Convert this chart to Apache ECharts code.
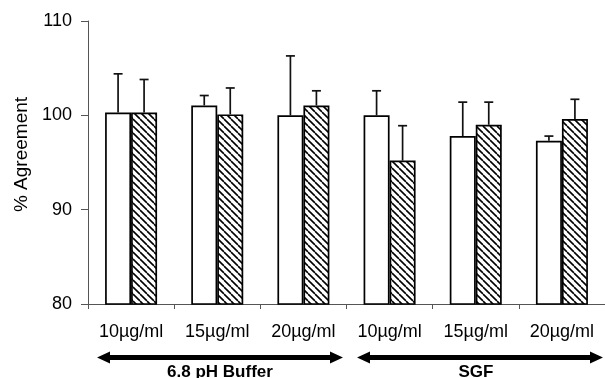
<!DOCTYPE html>
<html>
<head>
<meta charset="utf-8">
<script src="https://cdn.jsdelivr.net/npm/echarts@6/dist/echarts.min.js"></script>
<style>
  html, body { margin: 0; padding: 0; background: #fff; }
  #chart { width: 605px; height: 378px; }
</style>
</head>
<body>
<div id="chart"></div>
<script>
  // categories and values
  const categories = ['10µg/ml', '15µg/ml', '20µg/ml', '10µg/ml', '15µg/ml', '20µg/ml'];
  const plainValues = [100.3, 101.05, 100.0, 100.0, 97.8, 97.3];
  const plainErrors = [4.1, 1.05, 6.3, 2.6, 3.6, 0.5];
  const hatchValues = [100.3, 100.1, 101.05, 95.2, 99.0, 99.6];
  const hatchErrors = [3.5, 2.8, 1.55, 3.7, 2.4, 2.1];
  const yTicks = [80, 90, 100, 110];
  const groupNames = ['6.8 pH Buffer', 'SGF'];

  const font = "'Liberation Sans', Arial, Helvetica, sans-serif";

  // diagonal hatch tile
  function hatchTile () {
    const s = 7;
    const c = document.createElement('canvas');
    c.width = s; c.height = s;
    const ctx = c.getContext('2d');
    ctx.fillStyle = '#fff';
    ctx.fillRect(0, 0, s, s);
    ctx.strokeStyle = '#000';
    ctx.lineWidth = 1.6;
    for (let k = -1; k <= 1; k++) {
      ctx.beginPath();
      ctx.moveTo(k * s, 0);
      ctx.lineTo(k * s + s, s);
      ctx.stroke();
    }
    return c;
  }

  const barW = 26;

  function errorSeries (values, errors, offset) {
    return {
      type: 'custom',
      z: 5,
      encode: { x: 0, y: 1 },
      data: values.map((v, i) => [i, v, errors[i]]),
      renderItem (params, api) {
        const base = api.coord([api.value(0), api.value(1)]);
        const top = api.coord([api.value(0), api.value(1) + api.value(2)]);
        const x = base[0] + offset;
        const style = { stroke: '#111', lineWidth: 1.7 };
        return {
          type: 'group',
          children: [
            { type: 'line', shape: { x1: x, y1: base[1], x2: x, y2: top[1] }, style },
            { type: 'line', shape: { x1: x - 4.5, y1: top[1], x2: x + 4.5, y2: top[1] }, style }
          ]
        };
      }
    };
  }

  function arrow (x1, x2, y) {
    const hl = 13, hh = 6, t = 2.5;
    return {
      type: 'polygon',
      shape: {
        points: [
          [x1, y], [x1 + hl, y - hh], [x1 + hl, y - t], [x2 - hl, y - t], [x2 - hl, y - hh],
          [x2, y], [x2 - hl, y + hh], [x2 - hl, y + t], [x1 + hl, y + t], [x1 + hl, y + hh]
        ]
      },
      style: { fill: '#000' }
    };
  }

  const chart = echarts.init(document.getElementById('chart'));
  chart.setOption({
    animation: false,
    backgroundColor: '#fff',
    grid: { left: 88, right: -10, top: 21, bottom: 74 },
    xAxis: {
      type: 'category',
      data: categories,
      axisLine: { lineStyle: { color: '#555', width: 1 } },
      axisTick: { show: true, length: 5, lineStyle: { color: '#555' } },
      axisLabel: { color: '#000', fontSize: 18, fontFamily: font, margin: 19, interval: 0 }
    },
    yAxis: {
      type: 'value',
      min: yTicks[0],
      max: yTicks[yTicks.length - 1],
      interval: 10,
      name: '% Agreement',
      nameLocation: 'middle',
      nameGap: 56,
      nameTextStyle: { color: '#000', fontSize: 19, fontFamily: font, padding: [0, 0, 0, 16] },
      axisLine: { show: true, lineStyle: { color: '#555', width: 1 } },
      axisTick: { show: true, length: 7, lineStyle: { color: '#555' } },
      splitLine: { show: false },
      axisLabel: { color: '#000', fontSize: 18, fontFamily: font, margin: 16 }
    },
    series: [
      {
        type: 'bar',
        data: plainValues,
        barWidth: barW,
        barGap: '0%',
        itemStyle: { color: '#fff', borderColor: '#000', borderWidth: 1.7 }
      },
      {
        type: 'bar',
        data: hatchValues,
        barWidth: barW,
        barGap: '0%',
        itemStyle: {
          color: { image: hatchTile(), repeat: 'repeat' },
          borderColor: '#000',
          borderWidth: 1.7
        }
      },
      errorSeries(plainValues, plainErrors, -barW / 2),
      errorSeries(hatchValues, hatchErrors, barW / 2)
    ],
    graphic: [
      arrow(97, 343, 357.5),
      arrow(357, 603, 357.5),
      {
        type: 'text', x: 220, y: 364,
        style: { text: groupNames[0], font: 'bold 17px ' + font, fill: '#000', align: 'center', verticalAlign: 'top' }
      },
      {
        type: 'text', x: 476, y: 364,
        style: { text: groupNames[1], font: 'bold 17px ' + font, fill: '#000', align: 'center', verticalAlign: 'top' }
      }
    ]
  });
</script>
</body>
</html>
